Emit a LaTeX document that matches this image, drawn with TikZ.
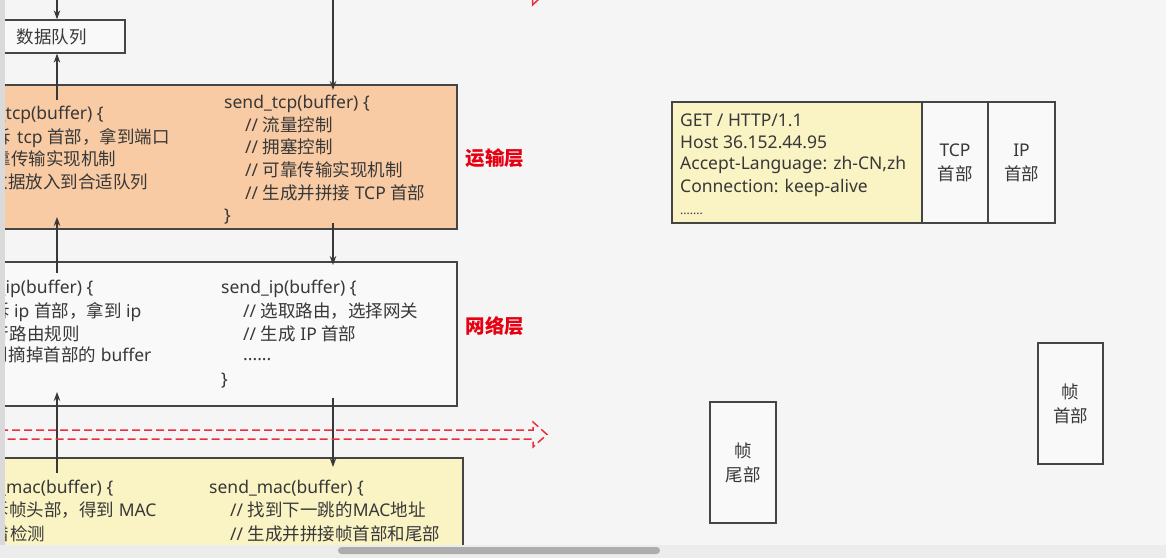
\documentclass[tikz,border=0pt]{standalone}
\usepackage{fontspec}
\setmainfont{Noto Sans}
\newfontfamily\cjk{Noto Sans CJK SC}
\usetikzlibrary{arrows.meta}
\definecolor{bg}{HTML}{F5F5F5}
\definecolor{ink}{HTML}{383838}
\definecolor{edge}{HTML}{454545}
\definecolor{orangefill}{HTML}{F8CBA4}
\definecolor{yellowfill}{HTML}{FAF3C4}
\definecolor{plainfill}{HTML}{F9F9F9}
\definecolor{redlab}{HTML}{E60012}
\definecolor{reddash}{HTML}{E8303A}
\definecolor{stripgray}{HTML}{DADADA}
\definecolor{barbg}{HTML}{ECECEC}
\definecolor{thumb}{HTML}{ADADAD}
\begin{document}
\begin{tikzpicture}[x=1pt,y=-1pt,
  txt/.style={inner sep=0pt, anchor=base west, text=ink, font=\fontsize{17.5}{21}\selectfont},
  txtr/.style={txt, anchor=base east},
  boxstyle/.style={draw=edge, line width=1.3pt, inner sep=0pt},
  smallbox/.style={boxstyle, fill=plainfill, text=ink, align=center, font=\fontsize{17.5}{24}\selectfont},
  redlabel/.style={inner sep=0pt, text=redlab, font=\fontsize{19.5}{22}\selectfont\cjk\bfseries},
  arr/.style={draw=ink, line width=1.1pt, -{Stealth[length=9pt,width=6.5pt]}},
  reddashed/.style={draw=reddash, line width=1.5pt, dash pattern=on 8pt off 4pt}
]
\useasboundingbox (0,0) rectangle (1166,558);
\fill[bg] (0,0) rectangle (1166,558);

\begin{scope}
\clip (5,0) rectangle (1166,545);
% boxes
\node[boxstyle, fill=plainfill, minimum width=185pt, minimum height=33pt] (q) at (32.5,36.5) {};
\node[txt, anchor=center, font=\fontsize{17.5}{21}\selectfont\cjk] (qt) at (51.5,37) {数据队列};
\node[boxstyle, fill=orangefill, minimum width=517pt, minimum height=144pt] (tb) at (198.5,157) {};
\node[boxstyle, fill=plainfill, minimum width=517pt, minimum height=144pt] (ib) at (198.5,334) {};
\node[boxstyle, fill=yellowfill, minimum width=523pt, minimum height=142pt] (mb) at (201.5,529) {};

% transport right
\node[txt] (t1) at (224,108) {send\_tcp(buffer) \{};
\node[txt] (t2) at (245,131) {// {\cjk 流量控制}};
\node[txt] (t3) at (245,153) {// {\cjk 拥塞控制}};
\node[txt] (t4) at (245,176) {// {\cjk 可靠传输实现机制}};
\node[txt] (t5) at (245,199) {// {\cjk 生成并拼接} TCP {\cjk 首部}};
\node[txt] (t6) at (224,221) {\}};
% transport left
\node[txtr] (tl1a) at (5.5,119) {recv\_};
\node[txt] (tl1b) at (5.5,119) {tcp(buffer) \{};
\node[txtr] (tl2a) at (11.5,143) {// {\cjk 拆}};
\node[txt] (tl2b) at (17,143) {tcp {\cjk 首部，拿到端口}};
\node[txtr] (tl3a) at (11,165) {// {\cjk 可靠}};
\node[txt] (tl3b) at (11,165) {{\cjk 传输实现机制}};
\node[txtr] (tl4a) at (8,188) {// {\cjk 把数}};
\node[txt] (tl4b) at (8,188) {{\cjk 据放入到合适队列}};

% ip right
\node[txt] (i1) at (221,293) {send\_ip(buffer) \{};
\node[txt] (i2) at (243,317) {// {\cjk 选取路由，选择网关}};
\node[txt] (i3) at (243,340) {// {\cjk 生成} IP {\cjk 首部}};
\node[txt] (i4) at (243,360) {......};
\node[txt] (i5) at (221,385) {\}};
% ip left
\node[txtr] (il1a) at (5.5,293) {recv\_};
\node[txt] (il1b) at (5.5,293) {ip(buffer) \{};
\node[txtr] (il2a) at (10,317) {// {\cjk 拆}};
\node[txt] (il2b) at (14,317) {ip {\cjk 首部，拿到} ip};
\node[txtr] (il3a) at (9,340) {// {\cjk 执行}};
\node[txt] (il3b) at (9.5,340) {{\cjk 路由规则}};
\node[txtr] (il4a) at (8,361) {// {\cjk 得到}};
\node[txt] (il4b) at (8.5,361) {{\cjk 摘掉首部的} buffer};

% mac right
\node[txt] (m1) at (209,493) {send\_mac(buffer) \{};
\node[txt] (m2) at (230,516) {// {\cjk 找到下一跳的}MAC{\cjk 地址}};
\node[txt] (m3) at (230,540) {// {\cjk 生成并拼接帧首部和尾部}};
% mac left
\node[txtr] (ml1a) at (6,493) {recv\_};
\node[txt] (ml1b) at (6,493) {mac(buffer) \{};
\node[txtr] (ml2a) at (9,516) {// {\cjk 拆}};
\node[txt] (ml2b) at (9,516) {{\cjk 帧头部，得到} MAC};
\node[txtr] (ml3a) at (9.5,540) {// {\cjk 差错}};
\node[txt] (ml3b) at (10,540) {{\cjk 检测}};

% layer labels
\node[redlabel] (lt) at (495,158) {运输层};
\node[redlabel] (ln) at (495,326) {网络层};

% arrows
\coordinate (a0) at (57,-5);
\draw[arr] (a0) -- (a0 |- q.north);
\coordinate (b0) at (57,100);
\draw[arr] (b0) -- (b0 |- q.south);
\coordinate (c0) at (57,273); \coordinate (c1) at (57,217);
\draw[arr] (c0) -- (c1);
\coordinate (d0) at (57,473); \coordinate (d1) at (57,392);
\draw[arr] (d0) -- (d1);
\coordinate (e0) at (333,-5); \coordinate (e1) at (333,90);
\draw[arr] (e0) -- (e1);
\coordinate (f0) at (333,223); \coordinate (f1) at (333,265);
\draw[arr] (f0) -- (f1);
\coordinate (g0) at (333,398); \coordinate (g1) at (333,467);
\draw[arr] (g0) -- (g1);

% red dashed hollow arrow
\draw[reddashed] (0,430) -- (533,430) -- (533,422) -- (547,434.5) -- (533,447) -- (533,439) -- (0,439);
% fragment of red arrow at top
\draw[draw=reddash, line width=1.5pt] (532.5,-2) -- (532.5,5) -- (539,-1);
\end{scope}

% right side packet
\node[boxstyle, fill=yellowfill, minimum width=250pt, minimum height=121pt] (http) at (797,162.5) {};
\node[txt] (h1) at (680,126) {GET / HTTP/1.1};
\node[txt] (h2) at (680,148) {Host 36.152.44.95};
\node[txt] (h3) at (680,169) {Accept-Language: zh-CN,zh};
\node[txt] (h4) at (680,192) {Connection: keep-alive};
\node[txt, font=\fontsize{12}{14}\selectfont] (h5) at (680,214) {.......};
\node[smallbox, minimum width=66pt, minimum height=121pt] (tcpb) at (955,162.5) {TCP\\{\cjk 首部}};
\node[smallbox, minimum width=67pt, minimum height=121pt] (ipb) at (1021.5,162.5) {IP\\{\cjk 首部}};
\node[smallbox, minimum width=66pt, minimum height=121pt, font=\fontsize{17.5}{24}\selectfont\cjk] (tail) at (743,462.5) {帧\\尾部};
\node[smallbox, minimum width=65pt, minimum height=121pt, font=\fontsize{17.5}{24}\selectfont\cjk] (head) at (1070.5,403.5) {帧\\首部};

% window chrome
\fill[stripgray] (0,0) rectangle (5,545);
\fill[barbg] (0,545) rectangle (1166,558);
\fill[thumb, rounded corners=3.5pt] (338,547) rectangle (660,554);
\end{tikzpicture}
\end{document}
